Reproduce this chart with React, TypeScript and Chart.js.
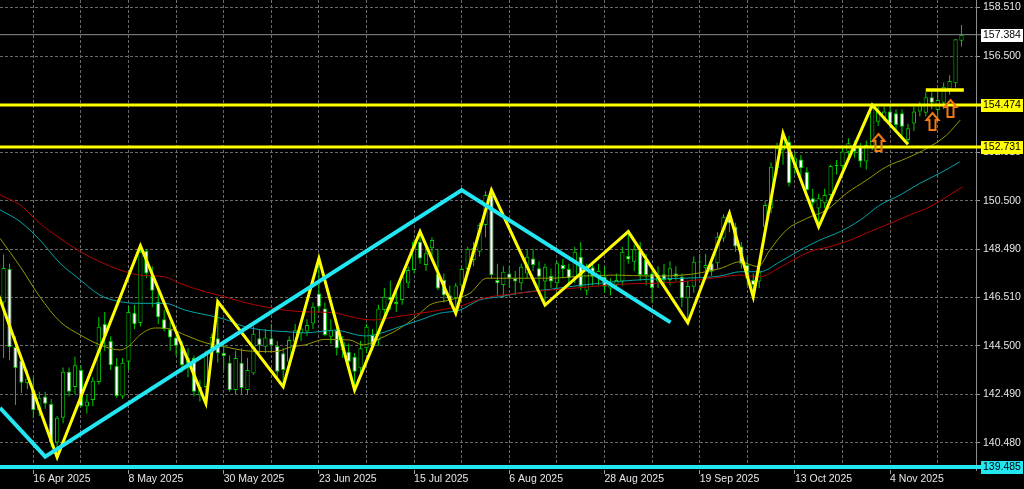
import { useEffect, useRef } from 'react';
import { Chart, registerables } from 'chart.js';

Chart.register(...registerables);

// ---------- data (USD/JPY daily, bar 0 = 16 Apr 2025) ----------
const FIRST_BAR = -5;

const OPEN = [
  146.3, 147.68, 144.45, 143.89, 142.96,
  142.67, 141.84, 142.4, 142.09, 140.5, 141.52, 143.43, 142.8, 143.5, 142.0,
  142.26, 143.0, 145.4, 144.7, 143.67, 142.4, 143.84, 145.87, 145.45, 148.44,
  147.43, 146.33, 145.6, 145.19, 144.85, 144.47, 143.7, 144.0, 142.46, 142.8,
  144.4, 144.82, 144.2, 143.8, 142.67, 143.8, 142.67, 143.36, 144.81, 144.46,
  144.81, 144.49, 144.19, 143.84, 144.67, 145.02, 145.09, 145.43, 146.67, 146.05,
  144.88, 145.15, 144.33, 144.26, 144.05, 143.57, 144.4, 144.95, 144.74, 145.98,
  146.53, 146.33, 146.4, 147.09, 147.64, 148.81, 147.85, 148.54, 147.5, 147.23,
  146.6, 146.48, 147.0, 147.68, 148.05, 148.4, 149.5, 150.75, 147.23, 147.02,
  147.5, 147.3, 147.09, 147.5, 148.12, 147.71, 147.16, 147.39, 147.09, 147.85,
  147.68, 147.3, 148.19, 146.78, 147.75, 147.36, 147.36, 146.88, 147.02, 147.16,
  148.22, 147.98, 148.44, 148.05, 147.5, 147.16, 147.46, 147.23, 147.5, 147.36,
  146.47, 146.95, 147.98, 147.71, 147.92, 147.92, 148.95, 149.78, 149.43, 148.61,
  147.85, 147.23, 147.16, 149.43, 150.19, 151.85, 152.6, 152.95, 151.85, 152.22,
  151.7, 150.61, 150.19, 150.4, 150.75, 151.95, 151.95, 152.54, 152.82, 152.75,
  152.13, 152.75, 153.78, 153.96, 154.2, 154.13, 154.13, 153.02, 153.71, 154.2,
  154.15, 154.79, 154.27, 154.57, 155.12, 155.37, 157.13,
];
const HIGH = [
  148.28, 147.9, 144.9, 144.1, 143.5,
  143.2, 142.6, 142.6, 142.3, 141.6, 143.6, 143.6, 144.05, 143.7, 142.5,
  143.2, 145.7, 145.9, 144.9, 144.0, 144.0, 146.15, 146.2, 148.65, 148.5,
  147.8, 146.8, 146.0, 145.5, 145.1, 144.7, 144.4, 144.1, 143.1, 144.3,
  145.0, 146.33, 144.6, 144.1, 144.3, 144.4, 144.0, 145.3, 145.2, 145.2,
  145.4, 144.7, 144.4, 144.9, 145.4, 145.5, 145.6, 146.3, 148.12, 146.3,
  145.6, 145.4, 144.9, 144.6, 144.2, 144.7, 145.4, 145.2, 146.2, 146.9,
  147.2, 146.8, 147.5, 147.8, 148.9, 149.23, 148.7, 149.0, 148.5, 147.5,
  147.0, 147.1, 147.8, 148.6, 148.8, 149.6, 150.9, 150.95, 147.9, 147.8,
  147.8, 147.6, 147.9, 148.5, 148.5, 148.0, 147.9, 147.7, 148.0, 148.1,
  147.9, 148.6, 148.8, 147.9, 148.0, 147.9, 147.8, 147.3, 147.5, 148.6,
  149.23, 148.7, 148.8, 148.3, 147.6, 147.8, 147.9, 148.0, 147.8, 147.5,
  147.2, 148.2, 148.3, 148.3, 148.1, 149.2, 149.95, 149.99, 149.6, 148.8,
  148.2, 147.5, 147.8, 150.5, 152.1, 152.9, 153.3, 153.2, 152.5, 152.4,
  151.9, 151.0, 150.8, 151.0, 152.0, 152.2, 152.7, 153.1, 153.0, 152.9,
  153.0, 154.47, 154.4, 154.4, 154.5, 154.3, 154.3, 153.7, 154.4, 154.6,
  155.0, 155.0, 155.0, 155.4, 155.7, 157.2, 157.79,
];
const LOW = [
  144.0, 143.9, 142.05, 142.55, 142.7,
  141.5, 141.6, 141.9, 140.3, 139.89, 141.3, 142.4, 142.5, 141.95, 141.7,
  142.0, 142.9, 144.3, 143.5, 142.35, 142.3, 143.5, 145.2, 145.3, 147.3,
  146.1, 145.4, 145.1, 144.3, 144.1, 143.4, 143.2, 142.4, 142.2, 142.12,
  143.9, 143.8, 143.5, 142.6, 142.5, 142.5, 142.5, 143.3, 144.2, 144.2,
  144.2, 143.2, 142.81, 143.6, 144.4, 144.7, 144.9, 145.2, 145.9, 144.9,
  144.6, 144.1, 144.0, 143.6, 142.67, 143.2, 144.2, 144.3, 144.5, 145.6,
  146.0, 145.9, 146.2, 146.9, 147.5, 147.9, 147.6, 148.2, 146.8, 146.3,
  146.2, 145.85, 146.8, 147.5, 147.8, 148.2, 149.0, 147.3, 146.6, 146.5,
  146.9, 146.6, 146.8, 147.3, 147.6, 146.9, 146.19, 146.9, 146.9, 147.3,
  147.0, 147.1, 146.8, 146.6, 147.0, 147.0, 146.7, 146.6, 146.8, 147.0,
  147.9, 147.6, 147.2, 147.0, 146.3, 146.9, 147.0, 147.0, 147.2, 146.1,
  145.46, 146.7, 147.3, 147.5, 147.4, 147.7, 148.8, 149.2, 148.4, 147.7,
  147.0, 146.53, 146.9, 149.1, 150.0, 151.6, 152.0, 151.1, 151.6, 151.5,
  150.9, 150.1, 149.43, 150.2, 150.6, 151.6, 151.8, 152.3, 152.3, 151.9,
  151.8, 152.6, 153.6, 153.8, 153.5, 153.4, 153.2, 152.85, 153.4, 154.0,
  154.0, 154.3, 153.9, 154.3, 154.9, 155.2, 156.89,
];
const CLOSE = [
  147.72, 144.45, 143.58, 142.97, 143.15,
  141.84, 142.35, 142.1, 140.5, 141.52, 143.43, 142.6, 143.7, 142.0, 142.2,
  143.06, 145.29, 144.9, 143.7, 142.42, 143.8, 145.9, 145.39, 148.4, 147.5,
  146.78, 145.68, 145.2, 144.85, 144.5, 143.7, 144.0, 142.6, 142.81, 144.2,
  144.87, 144.19, 144.08, 142.67, 144.0, 142.75, 143.5, 145.0, 144.53, 144.85,
  144.53, 143.43, 143.5, 144.74, 145.15, 145.22, 145.36, 146.12, 146.12, 144.95,
  145.15, 144.4, 144.67, 143.84, 143.43, 144.4, 145.29, 144.53, 146.05, 146.53,
  146.4, 146.23, 147.36, 147.64, 148.81, 148.12, 148.33, 148.88, 146.88, 146.6,
  146.4, 147.0, 147.68, 148.51, 148.55, 149.5, 150.75, 147.43, 147.09, 147.57,
  147.3, 147.16, 147.78, 148.19, 147.85, 147.36, 147.78, 147.16, 147.92, 147.68,
  147.3, 148.4, 146.95, 147.75, 147.36, 147.6, 146.95, 147.02, 147.23, 148.4,
  148.08, 148.5, 147.43, 147.43, 146.9, 147.43, 147.23, 147.71, 147.36, 146.47,
  146.98, 147.98, 147.95, 147.85, 147.57, 149.02, 149.85, 149.57, 148.61, 147.9,
  147.3, 147.02, 147.57, 150.33, 151.92, 152.68, 153.09, 151.23, 152.27, 151.85,
  150.95, 150.43, 150.61, 150.75, 151.95, 151.97, 152.55, 152.89, 152.54, 152.13,
  152.82, 154.34, 154.2, 154.2, 153.71, 153.64, 153.57, 153.51, 154.2, 154.47,
  154.79, 154.57, 154.68, 155.23, 155.47, 157.19, 157.384,
];

// moving averages (bar index / price)
const MA_FAST_X = [-5.6, -2.2, 1.1, 4.5, 7.9, 11.2, 14.6, 16.3, 17.9, 20.5, 23, 25.5, 28.9, 32.2, 35.6, 40.6, 43.4, 45.7, 49, 53.2, 55.4, 58.3, 61.1, 64.4, 66.6, 70, 73.4, 76.2, 81.2, 86.8, 92.4, 98, 103.7, 109.2, 115.4, 118.8, 121.8, 123.8, 126.6, 130, 133.3, 136.7, 140.1, 143.4, 146.8, 150.2, 153.5, 155.8];
const MA_FAST_Y = [148.95, 147.78, 146.53, 145.5, 144.95, 144.54, 144.33, 144.54, 144.95, 145.24, 145.2, 144.95, 144.63, 144.46, 144.3, 144.26, 144.46, 144.54, 144.77, 144.74, 144.54, 144.81, 145.15, 145.71, 146.19, 146.4, 146.68, 147.3, 147.3, 147.3, 147.39, 147.43, 147.39, 147.43, 147.7, 147.98, 147.78, 148.47, 149.3, 149.78, 150.12, 150.82, 151.37, 151.92, 152.27, 152.68, 153.23, 153.85];
const MA_MID_X = [-5.6, -2.2, 1.1, 4.5, 7.9, 11.2, 14.6, 17.9, 22.1, 25.5, 32.2, 35.6, 38.9, 42.3, 45.7, 50.7, 55.7, 58.3, 61.6, 65, 68.3, 71.7, 75, 78.4, 81.2, 86.8, 92.4, 98, 103.6, 109.2, 115.4, 118.8, 122.1, 125.5, 128.9, 132.2, 135.6, 139, 142.3, 145.7, 149, 152.4, 155.7];
const MA_MID_Y = [150.13, 149.64, 148.88, 147.92, 147.23, 146.6, 146.33, 146.26, 146.26, 145.98, 145.6, 145.29, 145.15, 145.09, 145.04, 145.15, 144.91, 145.02, 145.29, 145.57, 145.85, 145.98, 146.4, 146.53, 146.67, 146.84, 147.02, 147.16, 147.26, 147.3, 147.39, 147.57, 147.57, 147.98, 148.47, 148.88, 149.23, 149.71, 150.33, 150.75, 151.23, 151.65, 152.12];
const MA_SLOW_X = [-5.6, -2.2, 1.1, 4.5, 7.9, 11.2, 14.6, 17.9, 22.1, 24.6, 28.9, 32.2, 35.6, 38.9, 42.3, 45.7, 50.7, 53.2, 57.1, 61.1, 65, 68.3, 72.3, 75.6, 81.2, 86.8, 92.4, 98, 103.6, 109.2, 115.4, 118.8, 122.1, 125.5, 130.5, 133.9, 137.3, 140.6, 144, 147.3, 150.7, 154, 156.2];
const MA_SLOW_Y = [150.75, 150.33, 149.57, 148.95, 148.4, 147.98, 147.64, 147.43, 147.36, 147.09, 146.74, 146.53, 146.29, 146.12, 145.98, 145.91, 145.87, 145.71, 145.57, 145.71, 145.85, 145.98, 146.19, 146.47, 146.67, 146.81, 146.92, 147.05, 147.09, 147.16, 147.34, 147.43, 147.36, 147.75, 148.4, 148.61, 148.88, 149.23, 149.57, 149.92, 150.26, 150.75, 151.09];

// zigzag and trend line vertices
const ZIGZAG_X = [-11, 4, 18, 29, 31, 42, 48, 54, 65, 71, 77, 86, 100, 110, 117, 121, 126, 132, 141, 147];
const ZIGZAG_Y = [150.1, 139.89, 148.65, 142.12, 146.33, 142.81, 148.12, 142.67, 149.23, 145.85, 150.95, 146.19, 149.23, 145.46, 149.99, 146.53, 153.3, 149.43, 154.47, 152.85];
const TREND_X = [-5.6, 2, 72, 107.1];
const TREND_Y = [141.93, 139.91, 150.95, 145.47];

// horizontal levels
const LEVELS = [154.474, 152.731];
const SUPPORT = 139.485;
const CURRENT = 157.384;
const SHORT_LEVEL = 155.09;
const SHORT_LEVEL_X = [150, 156.4];

// arrows
const ARROW_BARS = [142, 151, 154];
const ARROW_TIPS = [153.26, 154.15, 154.68];

// axes
const X_MIN = -5.6;
const X_MAX = 158.44;
const Y_MIN = 139.36;
const Y_MAX = 158.82;
const Y_TICKS = [140.48, 142.49, 144.5, 146.51, 148.49, 150.5, 152.51, 154.49, 156.5, 158.51];
const X_GRID = [0, 8, 16, 24, 32, 40, 48, 56, 64, 72, 80, 88, 96, 104, 112, 120, 128, 136, 144, 152];
const X_LABEL_BARS = [0, 16, 32, 48, 64, 80, 96, 112, 128, 144];
const X_LABELS = ['16 Apr 2025', '8 May 2025', '30 May 2025', '23 Jun 2025', '15 Jul 2025', '6 Aug 2025', '28 Aug 2025', '19 Sep 2025', '13 Oct 2025', '4 Nov 2025'];

// price tags on the right axis
const TAG_VALUES = [CURRENT, LEVELS[0], LEVELS[1], SUPPORT];
const TAG_COLORS = ['#ffffff', '#ffff00', '#ffff00', '#22e6f2'];

// ---------- styles ----------
const GREEN = '#00cc00';
const YELLOW = '#ffff00';
const CYAN = '#22e6f2';
const OLIVE = '#999900';
const TEAL = '#00a3a8';
const RED = '#b40000';
const GRID = '#6a6a6a';
const TEXT = '#e6e6e6';
const FONT = { family: 'Liberation Sans, Arial, sans-serif', size: 10.5 };

const pts = (xs: number[], ys: number[]) => xs.map((x, i) => ({ x, y: ys[i] }));

const overlayPlugin = {
  id: 'mtOverlay',
  afterDatasetsDraw(chart: any) {
    const { ctx, scales } = chart;
    const xs = scales.x;
    const ys = scales.y;
    ctx.save();
    ctx.strokeStyle = '#f07a14';
    ctx.lineWidth = 2;
    ctx.lineJoin = 'miter';
    ARROW_BARS.forEach((b, i) => {
      const px = Math.round(xs.getPixelForValue(b)) + 0.5;
      const py = Math.round(ys.getPixelForValue(ARROW_TIPS[i]));
      ctx.beginPath();
      ctx.moveTo(px, py);
      ctx.lineTo(px + 6, py + 7);
      ctx.lineTo(px + 3, py + 7);
      ctx.lineTo(px + 3, py + 17);
      ctx.lineTo(px - 3, py + 17);
      ctx.lineTo(px - 3, py + 7);
      ctx.lineTo(px - 6, py + 7);
      ctx.closePath();
      ctx.stroke();
    });
    ctx.restore();
  },
  afterDraw(chart: any) {
    const { ctx, scales, chartArea } = chart;
    const ys = scales.y;
    ctx.save();
    ctx.font = `${FONT.size}px ${FONT.family}`;
    ctx.textBaseline = 'middle';
    ctx.textAlign = 'left';
    TAG_VALUES.forEach((v, i) => {
      const py = Math.round(ys.getPixelForValue(v));
      const x0 = chartArea.right + 5;
      ctx.fillStyle = TAG_COLORS[i];
      ctx.fillRect(x0, py - 6, 1024 - x0 - 1, 13);
      ctx.fillStyle = '#000000';
      ctx.fillText(v.toFixed(3), x0 + 2, py + 0.5);
    });
    ctx.restore();
  },
};

export default function App() {
  const ref = useRef<HTMLCanvasElement>(null);

  useEffect(() => {
    const canvas = ref.current;
    if (!canvas) return;
    const n = Math.min(OPEN.length, HIGH.length, LOW.length, CLOSE.length);
    const idx = Array.from({ length: n }, (_, i) => i);

    const hLine = (y: number, color: string, width: number, xs = [X_MIN - 10, X_MAX + 10], rightClip = 6) => ({
      type: 'line',
      data: [{ x: xs[0], y }, { x: xs[1], y }],
      borderColor: color,
      borderWidth: width,
      pointRadius: 0,
      clip: { left: 0, top: 0, right: rightClip, bottom: 0 },
      order: 2,
    });

    const chart = new Chart(canvas, {
      type: 'bar',
      data: {
        datasets: [
          {
            type: 'bar',
            data: idx.map((i) => ({ x: FIRST_BAR + i, y: [LOW[i], HIGH[i]] })),
            backgroundColor: GREEN,
            borderWidth: 0,
            grouped: false,
            maxBarThickness: 1,
            order: 10,
          },
          {
            type: 'bar',
            data: idx.map((i) => ({ x: FIRST_BAR + i, y: [Math.min(OPEN[i], CLOSE[i]), Math.max(OPEN[i], CLOSE[i])] })),
            backgroundColor: idx.map((i) => (CLOSE[i] >= OPEN[i] ? '#000000' : '#ffffff')),
            borderColor: GREEN,
            borderWidth: 1,
            borderSkipped: false,
            minBarLength: 1,
            grouped: false,
            maxBarThickness: 5,
            order: 9,
          },
          {
            type: 'line',
            data: pts(MA_SLOW_X, MA_SLOW_Y),
            borderColor: RED,
            borderWidth: 1,
            pointRadius: 0,
            cubicInterpolationMode: 'monotone',
            clip: 0,
            order: 6,
          },
          {
            type: 'line',
            data: pts(MA_MID_X, MA_MID_Y),
            borderColor: TEAL,
            borderWidth: 1,
            pointRadius: 0,
            cubicInterpolationMode: 'monotone',
            clip: 0,
            order: 6,
          },
          {
            type: 'line',
            data: pts(MA_FAST_X, MA_FAST_Y),
            borderColor: OLIVE,
            borderWidth: 1,
            pointRadius: 0,
            cubicInterpolationMode: 'monotone',
            clip: 0,
            order: 6,
          },
          {
            type: 'line',
            data: pts(ZIGZAG_X, ZIGZAG_Y),
            borderColor: YELLOW,
            borderWidth: 3,
            pointRadius: 0,
            borderJoinStyle: 'miter',
            clip: 0,
            order: 4,
          },
          {
            type: 'line',
            data: pts(TREND_X, TREND_Y),
            borderColor: CYAN,
            borderWidth: 4,
            pointRadius: 0,
            borderJoinStyle: 'miter',
            clip: 0,
            order: 3,
          },
          hLine(CURRENT, '#8c8c96', 1),
          hLine(LEVELS[0], YELLOW, 3),
          hLine(LEVELS[1], YELLOW, 3),
          hLine(SUPPORT, CYAN, 4),
          hLine(SHORT_LEVEL, YELLOW, 3.5, SHORT_LEVEL_X, 0),
        ] as any,
      },
      options: {
        animation: false,
        responsive: false,
        maintainAspectRatio: false,
        events: [],
        layout: { padding: 0 },
        plugins: { legend: { display: false }, tooltip: { enabled: false } },
        scales: {
          x: {
            type: 'linear',
            min: X_MIN,
            max: X_MAX,
            offset: false,
            afterBuildTicks: (s: any) => {
              s.ticks = X_GRID.map((v) => ({ value: v }));
            },
            afterFit: (s: any) => {
              s.height = 19;
              s.paddingLeft = 0;
              s.paddingRight = 0;
            },
            ticks: {
              autoSkip: false,
              maxRotation: 0,
              minRotation: 0,
              align: 'start',
              padding: -1,
              color: TEXT,
              font: FONT,
              callback: (v: any) => {
                const k = X_LABEL_BARS.indexOf(Number(v));
                return k >= 0 ? X_LABELS[k] : '';
              },
            },
            grid: {
              offset: false,
              color: GRID,
              lineWidth: 1,
              drawTicks: true,
              tickLength: 4,
              tickColor: (c: any) => (c.tick && X_LABEL_BARS.includes(c.tick.value) ? '#9a9a9a' : 'rgba(0,0,0,0)'),
            },
            border: { display: false, dash: [3, 2] },
          },
          y: {
            type: 'linear',
            position: 'right',
            min: Y_MIN,
            max: Y_MAX,
            afterBuildTicks: (s: any) => {
              s.ticks = Y_TICKS.map((v) => ({ value: v }));
            },
            afterFit: (s: any) => {
              s.width = 48;
              s.paddingTop = 0;
              s.paddingBottom = 0;
            },
            ticks: {
              padding: 3,
              color: TEXT,
              font: FONT,
              callback: (v: any) => Number(v).toFixed(3),
            },
            grid: {
              color: GRID,
              lineWidth: 1,
              drawTicks: true,
              tickLength: 4,
              tickColor: '#9a9a9a',
            },
            border: { display: true, color: '#8c8c8c', width: 1, dash: [3, 2] },
          },
        },
      } as any,
      plugins: [overlayPlugin],
    });

    return () => chart.destroy();
  }, []);

  return (
    <div style={{ position: 'fixed', left: 0, top: 0, width: 1024, height: 489, background: '#000000' }}>
      <canvas ref={ref} width={1024} height={489} style={{ display: 'block', width: 1024, height: 489 }} />
    </div>
  );
}
